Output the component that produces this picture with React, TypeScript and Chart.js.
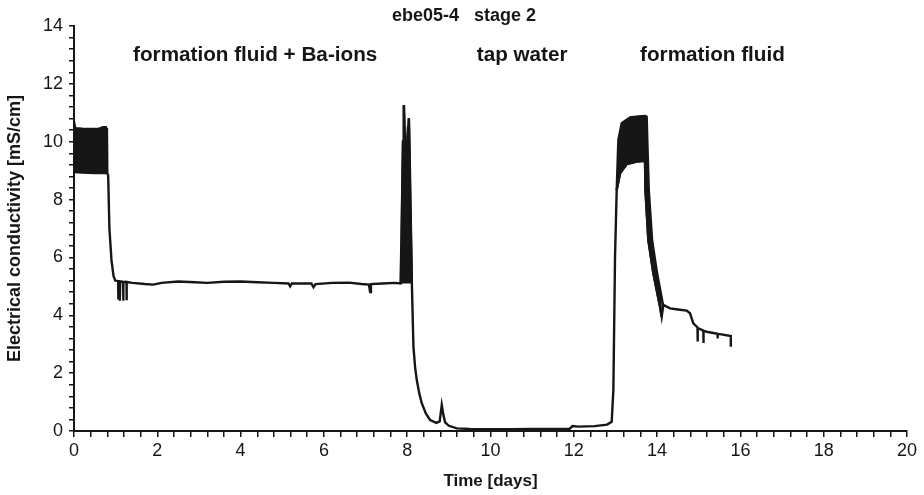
import React, { useEffect, useRef } from "react";
import { Chart, registerables } from "chart.js";

Chart.register(...registerables);

const titleText = "ebe05-4   stage 2";
const xAxisTitle = "Time [days]";
const yAxisTitle = "Electrical conductivity [mS/cm]";

const phaseLabels = ["formation fluid + Ba-ions", "tap water", "formation fluid"];
const phaseLabelDays = [4.35, 10.76, 15.33];
const phaseLabelValues = [12.8, 12.8, 12.8];

// main trace
const mainDays = [
  0.79, 0.8, 0.82, 0.85, 0.9, 0.95, 0.99,
  1.06, 1.06, 1.07, 1.1, 1.1, 1.11, 1.18, 1.18, 1.19, 1.26, 1.26, 1.27,
  1.4, 1.7, 1.9, 2.1, 2.5, 2.9, 3.2, 3.6, 4.0, 4.4, 4.8, 5.15, 5.19, 5.23, 5.5, 5.7, 5.75, 5.8,
  6.2, 6.6, 6.9, 7.08, 7.11, 7.13, 7.4, 7.7, 7.84,
  7.86, 7.9, 7.92, 7.95, 7.97, 8.0, 8.04, 8.07, 8.11, 8.15, 8.19, 8.23, 8.29, 8.35, 8.45, 8.55, 8.7, 8.78,
  8.83, 8.87, 8.91, 9.0, 9.19, 9.5, 10.0, 10.5, 11.0, 11.5, 11.9, 11.97, 12.1, 12.5, 12.8,
  12.91, 12.95, 12.99, 13.03, 13.11, 13.27, 13.51, 13.71,
  13.72, 13.79, 13.91, 14.07, 14.11,
  14.15, 14.31, 14.5, 14.71, 14.79, 14.87, 14.97, 14.97, 14.98, 15.11, 15.11, 15.12, 15.19,
  15.45, 15.45, 15.46, 15.51, 15.77, 15.77,
];
const mainValues = [
  10.48, 8.9, 8.85, 7.0, 5.9, 5.35, 5.2,
  5.18, 4.55, 5.18, 5.17, 4.5, 5.17, 5.16, 4.5, 5.16, 5.15, 4.52, 5.15,
  5.12, 5.08, 5.06, 5.12, 5.17, 5.14, 5.12, 5.16, 5.17, 5.14, 5.12, 5.1, 5.0, 5.1, 5.1, 5.1, 4.97, 5.08,
  5.12, 5.13, 5.08, 5.06, 4.8, 5.08, 5.1, 5.12, 5.1,
  6.5, 10.0, 11.27, 9.5, 8.68, 10.0, 10.81, 8.0, 5.22, 2.91, 2.2, 1.76, 1.3, 0.96, 0.6, 0.38, 0.28, 0.33,
  0.9, 0.55, 0.3, 0.18, 0.09, 0.07, 0.06, 0.06, 0.07, 0.07, 0.08, 0.17, 0.15, 0.17, 0.22,
  0.32, 1.42, 6.03, 8.33, 8.91, 9.23, 9.31, 9.34,
  8.33, 6.6, 5.45, 4.3, 3.95,
  4.36, 4.24, 4.2, 4.16, 4.07, 3.72, 3.58, 3.09, 3.56, 3.47, 3.04, 3.46, 3.43,
  3.36, 3.2, 3.36, 3.35, 3.28, 2.91,
];

// oscillation envelopes, first formation-fluid phase
const band1LowerDays = [0, 0.2, 0.5, 0.79];
const band1LowerValues = [8.95, 8.93, 8.92, 8.92];
const band1UpperDays = [0, 0.03, 0.2, 0.4, 0.6, 0.7, 0.79];
const band1UpperValues = [10.69, 10.47, 10.45, 10.44, 10.45, 10.5, 10.5];

// oscillation envelope of the double peak at the switch to tap water
const peakDays = [7.86, 7.88, 7.9, 7.92, 7.94, 7.96, 7.97, 7.99, 8.02, 8.04, 8.06, 8.09, 8.11];
const peakValues = [5.1, 8.0, 10.0, 11.27, 10.3, 8.9, 8.68, 9.5, 10.5, 10.81, 9.5, 7.0, 5.22];
const peakBaseValue = 5.1;

// oscillation envelopes, second formation-fluid phase
const band2LowerDays = [13.03, 13.11, 13.27, 13.51, 13.71, 13.72, 13.79, 13.91, 14.07, 14.11];
const band2LowerValues = [8.33, 8.91, 9.23, 9.31, 9.34, 8.33, 6.6, 5.45, 4.3, 3.95];
const band2UpperDays = [13.03, 13.07, 13.15, 13.35, 13.55, 13.71, 13.75, 13.77, 13.8, 13.88, 14.0, 14.15];
const band2UpperValues = [8.33, 10.06, 10.64, 10.84, 10.87, 10.89, 10.86, 9.8, 8.33, 6.6, 5.45, 4.3];

const xMin = 0;
const xMax = 20;
const yMin = 0;
const yMax = 14;
const minorStep = 0.4;
const labelStep = 2;

const FONT = "'Liberation Sans', Arial, Helvetica, sans-serif";
const INK = "#161616";

const toPoints = (xs: number[], ys: number[]) => xs.map((x, i) => ({ x, y: ys[i] }));

const labelCallback = (v: any) => {
  const n = Number(v);
  return Math.abs(n / labelStep - Math.round(n / labelStep)) < 1e-6 ? String(Math.round(n)) : "";
};

const textPlugin = {
  id: "chartTexts",
  afterDraw(chart: any) {
    const { ctx, scales } = chart;
    const xs = scales.x;
    const ys = scales.y;
    ctx.save();
    ctx.fillStyle = INK;
    ctx.textAlign = "center";
    ctx.textBaseline = "alphabetic";
    ctx.font = `bold 18px ${FONT}`;
    ctx.fillText(titleText, 464, 21);
    ctx.font = `bold 20.7px ${FONT}`;
    phaseLabels.forEach((t, i) => {
      ctx.fillText(t, xs.getPixelForValue(phaseLabelDays[i]), ys.getPixelForValue(phaseLabelValues[i]));
    });
    ctx.restore();
  },
};

const envelope = (xs: number[], ys: number[], fill: any) => ({
  data: toPoints(xs, ys),
  borderColor: INK,
  backgroundColor: INK,
  borderWidth: 2.4,
  pointRadius: 0,
  fill,
  tension: 0,
});

export default function App() {
  const ref = useRef<HTMLCanvasElement | null>(null);

  useEffect(() => {
    const canvas = ref.current;
    if (!canvas) return;
    const chart = new Chart(canvas, {
      type: "line",
      data: {
        datasets: [
          envelope(band1LowerDays, band1LowerValues, false),
          envelope(band1UpperDays, band1UpperValues, "-1"),
          envelope(band2LowerDays, band2LowerValues, false),
          envelope(band2UpperDays, band2UpperValues, "-1"),
          envelope(peakDays, peakValues, { value: peakBaseValue }),
          {
            data: toPoints(mainDays, mainValues),
            borderColor: INK,
            borderWidth: 2.4,
            pointRadius: 0,
            fill: false,
            tension: 0,
          },
        ],
      },
      options: {
        animation: false,
        responsive: false,
        maintainAspectRatio: false,
        layout: { padding: { top: 26, right: 17, left: 0, bottom: 0 } },
        plugins: {
          legend: { display: false },
          tooltip: { enabled: false },
          title: { display: false },
        },
        scales: {
          x: {
            type: "linear",
            min: xMin,
            max: xMax,
            afterFit: (s: any) => {
              s.height = 64;
            },
            border: { color: INK, width: 2 },
            grid: { drawOnChartArea: false, tickLength: 6, color: INK, lineWidth: 1.5 },
            ticks: {
              stepSize: minorStep,
              autoSkip: false,
              maxRotation: 0,
              padding: 3,
              color: INK,
              font: { family: FONT, size: 18 },
              callback: labelCallback,
            },
            title: {
              display: true,
              text: xAxisTitle,
              color: INK,
              font: { family: FONT, size: 17, weight: "bold" },
              padding: { top: 0, bottom: 3 },
            },
          },
          y: {
            type: "linear",
            min: yMin,
            max: yMax,
            afterFit: (s: any) => {
              s.width = 74;
            },
            border: { color: INK, width: 2 },
            grid: { drawOnChartArea: false, tickLength: 5, color: INK, lineWidth: 1.5 },
            ticks: {
              stepSize: minorStep,
              autoSkip: false,
              padding: 6,
              color: INK,
              font: { family: FONT, size: 18 },
              callback: labelCallback,
            },
            title: {
              display: true,
              text: yAxisTitle,
              color: INK,
              font: { family: FONT, size: 18, weight: "bold" },
              padding: { top: 4, bottom: 0 },
            },
          },
        },
      },
      plugins: [textPlugin],
    });
    return () => chart.destroy();
  }, []);

  return (
    <div style={{ position: "absolute", left: 0, top: 0, width: 924, height: 495, background: "#fff" }}>
      <canvas ref={ref} width={924} height={495} />
    </div>
  );
}
